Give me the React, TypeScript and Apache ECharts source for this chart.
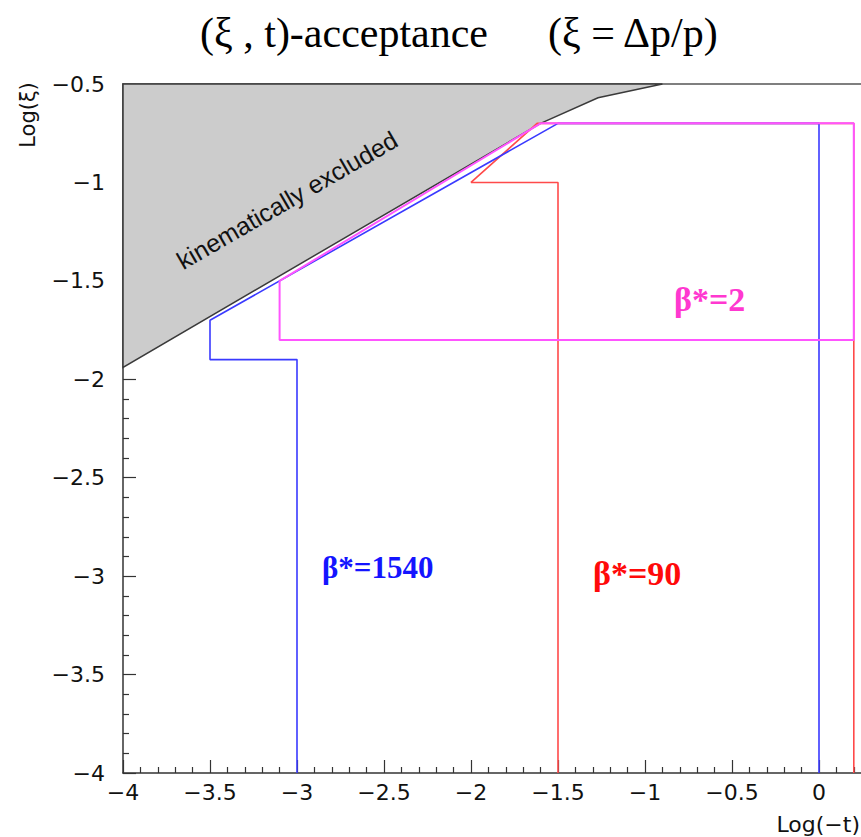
import React, { useEffect, useRef } from "react";
import * as echarts from "echarts";

// ---- data (log10 values) ----
const xTicks = [-4, -3.5, -3, -2.5, -2, -1.5, -1, -0.5, 0];
const yTicks = [-4, -3.5, -3, -2.5, -2, -1.5, -1, -0.5];

// kinematically excluded region (polygon vertices: x = Log(-t), y = Log(xi))
const excludedX = [-4, -4, -1.6, -1.27, -0.9];
const excludedY = [-0.5, -1.94, -0.7, -0.57, -0.5];

// beta* = 1540 acceptance contour
const beta1540X = [-3, -3, -3.5, -3.5, -1.5, 0, 0];
const beta1540Y = [-4, -1.9, -1.9, -1.7, -0.7, -0.7, -4];

// beta* = 90 acceptance contour
const beta90X = [-1.5, -1.5, -2, -1.62, 0.2, 0.2];
const beta90Y = [-4, -1.0, -1.0, -0.7, -0.7, -4];

// beta* = 2 acceptance contour
const beta2X = [-3.1, -1.6, 0.2, 0.2, -3.1, -3.1];
const beta2Y = [-1.5, -0.7, -0.7, -1.8, -1.8, -1.5];

const zip = (xs: number[], ys: number[]) => xs.map((x, i) => [x, ys[i]]);

const minusFmt = (v: number) => {
  const r = Math.round(v * 100) / 100;
  if (r === 0) return "0";
  return r < 0 ? "\u2212" + String(-r) : String(r);
};

export default function App() {
  const ref = useRef<HTMLDivElement>(null);

  useEffect(() => {
    if (!ref.current) return;
    const chart = echarts.init(ref.current, undefined, { renderer: "svg" });
    const excluded = zip(excludedX, excludedY);

    const axisColor = "#333";
    const labelFont = { fontFamily: "DejaVu Sans", fontSize: 22, color: "#111" };

    const option: any = {
      animation: false,
      backgroundColor: "#ffffff",
      grid: {
        left: 123,
        top: 84,
        width: 783,
        height: 689,
        containLabel: false,
        outerBoundsMode: "none",
      },
      xAxis: [
        {
          type: "value",
          min: -4,
          max: 0.5,
          interval: 0.5,
          position: "bottom",
          axisLine: { show: true, onZero: false, lineStyle: { color: axisColor, width: 1.5 } },
          axisTick: { show: true, inside: true, length: 13, lineStyle: { color: axisColor, width: 1.2 } },
          minorTick: { show: true, splitNumber: 5, length: 6, lineStyle: { color: axisColor, width: 1.2 } },
          splitLine: { show: false },
          axisLabel: { ...labelFont, margin: 8, formatter: minusFmt, showMaxLabel: false },
        },
        {
          type: "value",
          min: -4,
          max: 0.5,
          interval: 0.5,
          position: "top",
          axisLine: { show: true, onZero: false, lineStyle: { color: "#555", width: 1.5 } },
          axisTick: { show: false },
          axisLabel: { show: false },
          splitLine: { show: false },
        },
      ],
      yAxis: {
        type: "value",
        min: -4,
        max: -0.5,
        interval: 0.5,
        axisLine: { show: true, onZero: false, lineStyle: { color: axisColor, width: 1.5 } },
        axisTick: { show: true, inside: true, length: 13, lineStyle: { color: axisColor, width: 1.2 } },
        minorTick: { show: true, splitNumber: 5, length: 6, lineStyle: { color: axisColor, width: 1.2 } },
        splitLine: { show: false },
        axisLabel: { ...labelFont, margin: 18, formatter: minusFmt },
      },
      series: [
        {
          type: "custom",
          coordinateSystem: "cartesian2d",
          silent: true,
          z: 3,
          data: excluded,
          renderItem: (params: any, api: any) => {
            if (params.dataIndex !== 0) return null;
            const pts = excluded.map((p) => api.coord(p));
            return {
              type: "polygon",
              shape: { points: pts },
              style: { fill: "#cccccc", stroke: "#3a3a3a", lineWidth: 1.5 },
            };
          },
        },
        {
          type: "line",
          name: "β*=90",
          data: zip(beta90X, beta90Y),
          showSymbol: false,
          symbol: "none",
          z: 4,
          lineStyle: { color: "#ff4a4a", width: 1.6 },
        },
        {
          type: "line",
          name: "β*=1540",
          data: zip(beta1540X, beta1540Y),
          showSymbol: false,
          symbol: "none",
          z: 5,
          lineStyle: { color: "#3a3aff", width: 1.6 },
        },
        {
          type: "line",
          name: "β*=2",
          data: zip(beta2X, beta2Y),
          showSymbol: false,
          symbol: "none",
          z: 6,
          lineStyle: { color: "#ff55ff", width: 2 },
        },
      ],
      graphic: [
        {
          type: "text",
          left: 200,
          top: 12,
          style: {
            text: "(ξ , t)-acceptance",
            font: "42px 'Liberation Serif'",
            fill: "#000",
          },
        },
        {
          type: "text",
          left: 548,
          top: 12,
          style: {
            text: "(ξ = Δp/p)",
            font: "42px 'Liberation Serif'",
            fill: "#000",
          },
        },
        {
          type: "text",
          x: 28,
          y: 115,
          rotation: Math.PI / 2,
          style: {
            text: "Log(ξ)",
            font: "21px 'DejaVu Sans'",
            fill: "#111",
            align: "center",
            verticalAlign: "middle",
          },
        },
        {
          type: "text",
          x: 860,
          y: 824,
          style: {
            text: "Log(\u2212t)",
            font: "22px 'DejaVu Sans'",
            fill: "#111",
            align: "right",
            verticalAlign: "middle",
          },
        },
        {
          type: "text",
          x: 287,
          y: 200,
          rotation: Math.PI / 6,
          z: 100,
          style: {
            text: "kinematically excluded",
            font: "25px 'Liberation Sans'",
            fill: "#111",
            align: "center",
            verticalAlign: "middle",
          },
        },
        {
          type: "text",
          x: 322,
          y: 567,
          z: 100,
          style: {
            text: "β*=1540",
            font: "bold 31px 'Liberation Serif'",
            fill: "#1414ff",
            align: "left",
            verticalAlign: "middle",
          },
        },
        {
          type: "text",
          x: 593,
          y: 573,
          z: 100,
          style: {
            text: "β*=90",
            font: "bold 34px 'Liberation Serif'",
            fill: "#ff0a0a",
            align: "left",
            verticalAlign: "middle",
          },
        },
        {
          type: "text",
          x: 674,
          y: 299,
          z: 100,
          style: {
            text: "β*=2",
            font: "bold 34px 'Liberation Serif'",
            fill: "#ff38d0",
            align: "left",
            verticalAlign: "middle",
          },
        },
      ],
    };

    chart.setOption(option);
    return () => chart.dispose();
  }, []);

  return (
    <div
      ref={ref}
      style={{ position: "fixed", left: 0, top: 0, width: 861, height: 837, background: "#fff" }}
    />
  );
}
